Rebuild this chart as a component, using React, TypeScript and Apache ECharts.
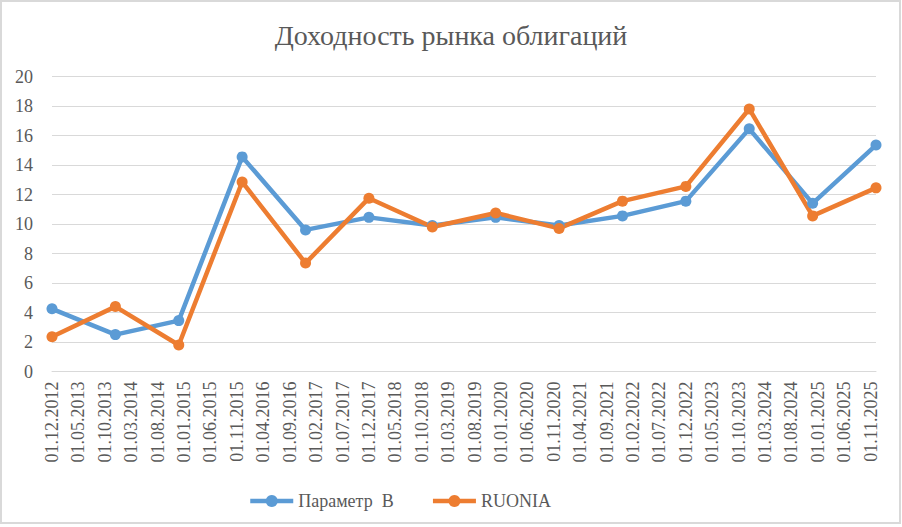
import { useRef, useEffect } from "react";
import * as echarts from "echarts";

// Yearly observation dates (1st of December each year)
const POINT_DATES = [
  "01.12.2012", "01.12.2013", "01.12.2014", "01.12.2015", "01.12.2016",
  "01.12.2017", "01.12.2018", "01.12.2019", "01.12.2020", "01.12.2021",
  "01.12.2022", "01.12.2023", "01.12.2024", "01.12.2025",
];

const PARAM_B = [4.25, 2.5, 3.45, 14.55, 9.6, 10.45, 9.9, 10.45, 9.9, 10.55, 11.55, 16.45, 11.4, 15.35];
const RUONIA = [2.35, 4.4, 1.8, 12.85, 7.35, 11.75, 9.8, 10.75, 9.7, 11.55, 12.55, 17.8, 10.55, 12.45];

// Axis labels every 5 months, as in the source workbook
const TICK_LABELS = [
  "01.12.2012", "01.05.2013", "01.10.2013", "01.03.2014", "01.08.2014",
  "01.01.2015", "01.06.2015", "01.11.2015", "01.04.2016", "01.09.2016",
  "01.02.2017", "01.07.2017", "01.12.2017", "01.05.2018", "01.10.2018",
  "01.03.2019", "01.08.2019", "01.01.2020", "01.06.2020", "01.11.2020",
  "01.04.2021", "01.09.2021", "01.02.2022", "01.07.2022", "01.12.2022",
  "01.05.2023", "01.10.2023", "01.03.2024", "01.08.2024", "01.01.2025",
  "01.06.2025", "01.11.2025",
];

const SERIF = "Liberation Serif, DejaVu Serif, serif";
const TEXT = "#595959";
const GRID = "#d9d9d9";

// months elapsed since 01.12.2012
function monthIndex(d: string): number {
  const [, m, y] = d.split(".").map(Number);
  return (y - 2012) * 12 + (m - 12);
}

export default function App() {
  const chartRef = useRef<HTMLDivElement>(null);

  useEffect(() => {
    if (!chartRef.current) return;
    const chart = echarts.init(chartRef.current, undefined, { renderer: "svg" });

    const toPoints = (vals: number[]) => vals.map((v, i) => [monthIndex(POINT_DATES[i]), v]);

    const option: echarts.EChartsOption = {
      animation: false,
      backgroundColor: "#ffffff",
      textStyle: { fontFamily: SERIF },
      title: {
        text: "Доходность рынка облигаций",
        left: "center",
        top: 16,
        textStyle: { fontFamily: SERIF, fontSize: 28, fontWeight: "normal", color: TEXT },
      },
      graphic: [
        {
          type: "rect",
          shape: { x: 1, y: 1, width: 899, height: 522 },
          style: { fill: "none", stroke: GRID, lineWidth: 2 },
          silent: true,
        },
      ],
      legend: {
        left: 243,
        top: 487,
        itemWidth: 43,
        itemHeight: 15,
        itemGap: 37,
        lineStyle: { width: 4.5 },
        textStyle: { fontFamily: SERIF, fontSize: 18, color: TEXT },
        data: ["Параметр  В", "RUONIA"],
      },
      grid: { left: 52, right: 26, top: 76.5, bottom: 155.5 },
      xAxis: {
        type: "value",
        min: 0,
        max: 156,
        interval: 5,
        splitLine: { show: false },
        axisTick: { show: false },
        axisLine: { lineStyle: { color: GRID, width: 1 } },
        axisLabel: {
          rotate: 90,
          margin: 10,
          fontFamily: SERIF,
          fontSize: 18,
          color: TEXT,
          showMaxLabel: false,
          formatter: (v: number) => TICK_LABELS[Math.round(v / 5)] ?? "",
        },
      },
      yAxis: {
        type: "value",
        min: 0,
        max: 20,
        interval: 2,
        axisLine: { show: false },
        axisTick: { show: false },
        splitLine: { lineStyle: { color: GRID, width: 1 } },
        axisLabel: { margin: 19, fontFamily: SERIF, fontSize: 18, color: TEXT },
      },
      series: [
        {
          name: "Параметр  В",
          type: "line",
          data: toPoints(PARAM_B),
          symbol: "circle",
          symbolSize: 11,
          color: "#5b9bd5",
          lineStyle: { width: 4.5, color: "#5b9bd5" },
          itemStyle: { color: "#5b9bd5" },
        },
        {
          name: "RUONIA",
          type: "line",
          data: toPoints(RUONIA),
          symbol: "circle",
          symbolSize: 11,
          color: "#ed7d31",
          lineStyle: { width: 4.5, color: "#ed7d31" },
          itemStyle: { color: "#ed7d31" },
        },
      ],
    };

    chart.setOption(option);
    return () => chart.dispose();
  }, []);

  return (
    <div
      ref={chartRef}
      style={{ position: "fixed", left: 0, top: 0, width: 902, height: 527 }}
    />
  );
}
